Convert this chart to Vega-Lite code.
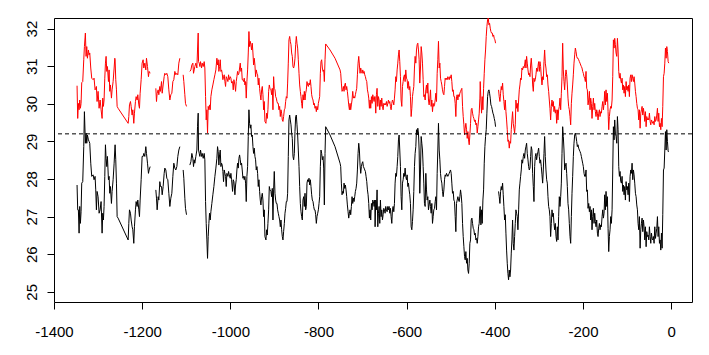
{
"$schema": "https://vega.github.io/schema/vega-lite/v6.json",
"width": 638, "height": 284,
"autosize": {"type": "none"},
"padding": {"left": 54, "top": 18, "right": 17, "bottom": 53},
"background": "white",
"config": {
 "view": {"stroke": "black", "strokeWidth": 1},
 "axis": {"domain": false, "grid": false, "tickColor": "black", "tickSize": 7, "labelColor": "black", "labelFont": "Liberation Sans", "labelFontSize": 15, "labelOverlap": false, "labelFlush": false, "title": null}
},
"data": {"values": [
{"x":-1347.7,"r":30.48,"b":27.84,"s":1},{"x":-1346.2,"r":29.61,"b":27.18,"s":1},{"x":-1344.7,"r":30.01,"b":27.18,"s":1},{"x":-1343.1,"r":29.84,"b":26.56,"s":1},{"x":-1341.6,"r":30.10,"b":27.27,"s":1},{"x":-1340.1,"r":29.88,"b":26.82,"s":1},{"x":-1338.6,"r":30.01,"b":27.13,"s":1},{"x":-1337.1,"r":30.56,"b":27.89,"s":1},{"x":-1334.8,"r":30.59,"b":27.93,"s":1},{"x":-1332.5,"r":31.17,"b":28.86,"s":1},{"x":-1331.0,"r":31.52,"b":29.79,"s":1},{"x":-1328.8,"r":31.88,"b":28.95,"s":1},{"x":-1327.2,"r":31.26,"b":29.22,"s":1},{"x":-1325.7,"r":31.52,"b":28.95,"s":1},{"x":-1324.2,"r":31.21,"b":29.17,"s":1},{"x":-1321.9,"r":31.43,"b":29.04,"s":1},{"x":-1320.4,"r":31.30,"b":29.00,"s":1},{"x":-1318.9,"r":31.35,"b":28.95,"s":1},{"x":-1316.6,"r":30.95,"b":28.42,"s":1},{"x":-1314.4,"r":30.68,"b":28.07,"s":1},{"x":-1311.3,"r":30.64,"b":28.11,"s":1},{"x":-1309.1,"r":30.68,"b":27.98,"s":1},{"x":-1306.8,"r":30.37,"b":28.07,"s":1},{"x":-1305.3,"r":30.41,"b":27.71,"s":1},{"x":-1303.8,"r":30.46,"b":27.18,"s":1},{"x":-1302.3,"r":30.06,"b":27.67,"s":1},{"x":-1300.0,"r":30.33,"b":27.53,"s":1},{"x":-1297.7,"r":29.88,"b":27.09,"s":1},{"x":-1295.4,"r":30.10,"b":27.18,"s":1},{"x":-1293.2,"r":29.84,"b":27.40,"s":1},{"x":-1290.9,"r":29.61,"b":26.56,"s":1},{"x":-1289.4,"r":30.15,"b":27.09,"s":1},{"x":-1287.9,"r":29.93,"b":26.91,"s":1},{"x":-1286.4,"r":30.10,"b":27.27,"s":1},{"x":-1284.8,"r":30.68,"b":28.07,"s":1},{"x":-1283.3,"r":31.08,"b":28.91,"s":1},{"x":-1281.8,"r":31.26,"b":28.55,"s":1},{"x":-1280.3,"r":30.86,"b":28.33,"s":1},{"x":-1278.8,"r":30.99,"b":28.60,"s":1},{"x":-1276.5,"r":30.59,"b":27.98,"s":1},{"x":-1275.0,"r":30.90,"b":28.07,"s":1},{"x":-1273.5,"r":30.33,"b":27.62,"s":1},{"x":-1272.0,"r":30.50,"b":27.80,"s":1},{"x":-1269.7,"r":30.15,"b":27.35,"s":1},{"x":-1268.2,"r":30.37,"b":27.67,"s":1},{"x":-1265.9,"r":30.59,"b":27.98,"s":1},{"x":-1263.6,"r":30.95,"b":28.42,"s":1},{"x":-1262.1,"r":31.21,"b":28.77,"s":1},{"x":-1261.4,"r":31.17,"b":28.91,"s":1},{"x":-1259.9,"r":30.64,"b":28.51,"s":1},{"x":-1258.3,"r":30.37,"b":27.89,"s":1},{"x":-1256.8,"r":29.93,"b":27.00,"s":1},{"x":-1254.6,"r":29.88,"b":26.96,"s":1},{"x":-1231.8,"r":29.48,"b":26.38,"s":1},{"x":-1230.3,"r":29.66,"b":26.82,"s":1},{"x":-1228.8,"r":29.97,"b":27.18,"s":1},{"x":-1226.5,"r":30.06,"b":27.09,"s":1},{"x":-1225.0,"r":29.93,"b":26.91,"s":1},{"x":-1222.8,"r":29.70,"b":26.73,"s":1},{"x":-1221.2,"r":29.84,"b":26.65,"s":1},{"x":-1219.0,"r":29.48,"b":26.29,"s":1},{"x":-1217.5,"r":29.75,"b":26.73,"s":1},{"x":-1215.2,"r":30.06,"b":27.18,"s":1},{"x":-1213.7,"r":30.19,"b":27.40,"s":1},{"x":-1211.4,"r":30.10,"b":27.27,"s":1},{"x":-1209.9,"r":30.24,"b":27.44,"s":1},{"x":-1207.6,"r":29.97,"b":27.18,"s":1},{"x":-1206.1,"r":29.88,"b":27.00,"s":1},{"x":-1204.6,"r":30.28,"b":27.44,"s":1},{"x":-1202.3,"r":30.64,"b":27.98,"s":1},{"x":-1200.1,"r":31.08,"b":28.60,"s":1},{"x":-1197.8,"r":31.17,"b":28.60,"s":1},{"x":-1196.3,"r":30.95,"b":28.68,"s":1},{"x":-1194.0,"r":31.08,"b":28.60,"s":1},{"x":-1191.7,"r":30.90,"b":28.86,"s":1},{"x":-1190.2,"r":31.21,"b":28.68,"s":1},{"x":-1187.9,"r":30.99,"b":28.42,"s":1},{"x":-1185.7,"r":30.72,"b":28.15,"s":1},{"x":-1184.2,"r":30.86,"b":28.24,"s":1},{"x":-1181.9,"r":30.81,"b":28.33,"s":1},
{"x":-1169.0,"r":30.41,"b":27.71,"s":2},{"x":-1167.5,"r":30.06,"b":27.49,"s":2},{"x":-1166.0,"r":30.28,"b":27.18,"s":2},{"x":-1163.7,"r":30.37,"b":27.53,"s":2},{"x":-1162.2,"r":30.24,"b":27.44,"s":2},{"x":-1159.9,"r":30.46,"b":27.93,"s":2},{"x":-1158.4,"r":30.33,"b":27.80,"s":2},{"x":-1156.1,"r":30.59,"b":27.80,"s":2},{"x":-1154.6,"r":30.28,"b":27.58,"s":2},{"x":-1152.4,"r":30.50,"b":27.80,"s":2},{"x":-1150.1,"r":30.72,"b":28.15,"s":2},{"x":-1148.6,"r":30.81,"b":28.29,"s":2},{"x":-1146.3,"r":30.77,"b":28.24,"s":2},{"x":-1144.1,"r":30.81,"b":28.02,"s":2},{"x":-1141.8,"r":30.72,"b":27.98,"s":2},{"x":-1139.5,"r":30.37,"b":27.62,"s":2},{"x":-1137.2,"r":30.10,"b":27.27,"s":2},{"x":-1135.0,"r":30.24,"b":27.49,"s":2},{"x":-1132.7,"r":30.28,"b":27.62,"s":2},{"x":-1130.4,"r":30.59,"b":28.07,"s":2},{"x":-1128.2,"r":30.64,"b":28.42,"s":2},{"x":-1125.9,"r":30.86,"b":28.29,"s":2},{"x":-1123.6,"r":30.77,"b":28.24,"s":2},{"x":-1121.3,"r":30.81,"b":28.33,"s":2},{"x":-1119.1,"r":30.77,"b":28.60,"s":2},{"x":-1116.8,"r":31.08,"b":28.77,"s":2},{"x":-1114.5,"r":31.21,"b":28.86,"s":2},
{"x":-1107.0,"r":30.77,"b":28.24,"s":3},{"x":-1105.5,"r":30.59,"b":28.02,"s":3},{"x":-1103.2,"r":30.24,"b":27.49,"s":3},{"x":-1101.7,"r":30.01,"b":27.22,"s":3},{"x":-1099.4,"r":29.93,"b":27.05,"s":3},
{"x":-1091.8,"r":30.86,"b":28.37,"s":4},{"x":-1089.5,"r":30.90,"b":28.46,"s":4},{"x":-1087.3,"r":31.03,"b":28.68,"s":4},{"x":-1085.0,"r":31.08,"b":28.55,"s":4},{"x":-1083.5,"r":30.81,"b":28.33,"s":4},{"x":-1082.0,"r":30.90,"b":28.51,"s":4},{"x":-1080.5,"r":30.99,"b":28.42,"s":4},{"x":-1078.2,"r":31.08,"b":28.60,"s":4},{"x":-1075.9,"r":30.95,"b":28.77,"s":4},{"x":-1074.4,"r":31.43,"b":29.39,"s":4},{"x":-1072.9,"r":31.88,"b":29.75,"s":4},{"x":-1072.1,"r":31.12,"b":28.77,"s":4},{"x":-1070.6,"r":31.08,"b":28.68,"s":4},{"x":-1069.1,"r":30.99,"b":28.60,"s":4},{"x":-1067.6,"r":31.12,"b":28.77,"s":4},{"x":-1065.3,"r":30.95,"b":28.60,"s":4},{"x":-1063.8,"r":31.08,"b":28.68,"s":4},{"x":-1061.5,"r":30.99,"b":28.55,"s":4},{"x":-1059.3,"r":31.12,"b":28.68,"s":4},{"x":-1057.8,"r":30.95,"b":28.51,"s":4},{"x":-1056.2,"r":30.19,"b":27.40,"s":4},{"x":-1054.7,"r":29.57,"b":26.82,"s":4},{"x":-1053.2,"r":29.84,"b":26.38,"s":4},{"x":-1051.7,"r":29.22,"b":25.89,"s":4},{"x":-1050.2,"r":29.93,"b":26.47,"s":4},{"x":-1048.7,"r":29.84,"b":26.82,"s":4},{"x":-1047.2,"r":29.97,"b":27.09,"s":4},{"x":-1045.6,"r":29.84,"b":26.91,"s":4},{"x":-1044.1,"r":30.19,"b":27.13,"s":4},{"x":-1041.9,"r":30.37,"b":27.35,"s":4},{"x":-1039.6,"r":30.50,"b":27.58,"s":4},{"x":-1037.3,"r":30.64,"b":27.80,"s":4},{"x":-1035.0,"r":30.77,"b":28.07,"s":4},{"x":-1032.8,"r":30.90,"b":28.29,"s":4},{"x":-1030.5,"r":31.21,"b":28.55,"s":4},{"x":-1029.0,"r":31.03,"b":28.86,"s":4},{"x":-1027.5,"r":31.17,"b":28.73,"s":4},{"x":-1026.0,"r":30.86,"b":28.37,"s":4},{"x":-1024.4,"r":30.99,"b":28.64,"s":4},{"x":-1022.9,"r":31.17,"b":28.77,"s":4},{"x":-1021.4,"r":30.86,"b":28.33,"s":4},{"x":-1019.9,"r":30.90,"b":28.42,"s":4},{"x":-1018.4,"r":30.81,"b":28.37,"s":4},{"x":-1016.9,"r":30.64,"b":28.20,"s":4},{"x":-1015.4,"r":30.72,"b":27.93,"s":4},{"x":-1013.8,"r":30.77,"b":28.24,"s":4},{"x":-1012.3,"r":30.59,"b":28.15,"s":4},{"x":-1010.8,"r":30.46,"b":28.07,"s":4},{"x":-1009.3,"r":30.72,"b":27.80,"s":4},{"x":-1007.8,"r":30.68,"b":28.15,"s":4},{"x":-1005.5,"r":30.59,"b":28.07,"s":4},{"x":-1004.0,"r":30.77,"b":28.20,"s":4},{"x":-1002.5,"r":30.64,"b":28.11,"s":4},{"x":-1000.2,"r":30.72,"b":28.02,"s":4},{"x":-998.7,"r":30.68,"b":28.15,"s":4},{"x":-997.2,"r":30.55,"b":27.98,"s":4},{"x":-994.9,"r":30.59,"b":27.67,"s":4},{"x":-993.4,"r":30.37,"b":27.98,"s":4},{"x":-991.9,"r":30.64,"b":27.93,"s":4},{"x":-989.6,"r":30.50,"b":27.58,"s":4},{"x":-988.1,"r":30.33,"b":27.84,"s":4},{"x":-986.6,"r":30.59,"b":27.98,"s":4},{"x":-985.1,"r":30.72,"b":28.24,"s":4},{"x":-983.6,"r":30.86,"b":28.42,"s":4},{"x":-982.0,"r":30.77,"b":28.29,"s":4},{"x":-980.5,"r":30.81,"b":28.55,"s":4},{"x":-979.0,"r":30.95,"b":28.64,"s":4},{"x":-977.5,"r":31.08,"b":28.51,"s":4},{"x":-976.0,"r":30.86,"b":28.37,"s":4},{"x":-974.5,"r":30.95,"b":28.42,"s":4},{"x":-973.0,"r":30.64,"b":28.24,"s":4},{"x":-971.4,"r":30.64,"b":28.02,"s":4},{"x":-969.9,"r":30.59,"b":28.07,"s":4},{"x":-968.4,"r":30.68,"b":27.98,"s":4},{"x":-966.9,"r":30.50,"b":28.07,"s":4},{"x":-965.4,"r":30.59,"b":27.89,"s":4},{"x":-963.9,"r":30.15,"b":27.40,"s":4},{"x":-962.4,"r":30.59,"b":28.07,"s":4},{"x":-960.8,"r":30.90,"b":28.33,"s":4},{"x":-959.3,"r":31.35,"b":29.13,"s":4},{"x":-957.8,"r":31.92,"b":29.84,"s":4},{"x":-956.3,"r":31.52,"b":29.48,"s":4},{"x":-954.8,"r":31.66,"b":29.35,"s":4},{"x":-953.3,"r":31.57,"b":29.44,"s":4},{"x":-951.8,"r":31.43,"b":29.13,"s":4},{"x":-950.2,"r":31.61,"b":29.17,"s":4},{"x":-948.7,"r":31.35,"b":28.86,"s":4},{"x":-947.2,"r":31.03,"b":28.68,"s":4},{"x":-945.7,"r":31.21,"b":28.82,"s":4},{"x":-944.2,"r":31.03,"b":28.60,"s":4},{"x":-942.7,"r":30.72,"b":28.51,"s":4},{"x":-941.2,"r":30.90,"b":28.24,"s":4},{"x":-939.6,"r":30.81,"b":28.33,"s":4},{"x":-938.1,"r":30.77,"b":28.15,"s":4},{"x":-936.6,"r":30.50,"b":27.80,"s":4},{"x":-935.1,"r":30.68,"b":27.98,"s":4},{"x":-933.6,"r":30.41,"b":27.67,"s":4},{"x":-932.1,"r":30.24,"b":27.44,"s":4},{"x":-930.6,"r":30.10,"b":27.31,"s":4},{"x":-929.0,"r":30.37,"b":27.53,"s":4},{"x":-927.5,"r":30.46,"b":27.62,"s":4},{"x":-926.0,"r":30.24,"b":27.44,"s":4},{"x":-924.5,"r":29.84,"b":27.00,"s":4},{"x":-923.0,"r":30.06,"b":27.18,"s":4},{"x":-921.5,"r":29.53,"b":26.47,"s":4},{"x":-919.2,"r":29.48,"b":26.38,"s":4},{"x":-917.7,"r":29.75,"b":26.65,"s":4},{"x":-916.2,"r":29.61,"b":26.51,"s":4},{"x":-914.7,"r":29.84,"b":26.82,"s":4},{"x":-913.1,"r":30.33,"b":27.18,"s":4},{"x":-911.6,"r":30.50,"b":27.80,"s":4},
{"x":-910.1,"r":30.41,"b":27.71,"s":4},{"x":-907.8,"r":30.37,"b":27.67,"s":4},{"x":-906.3,"r":30.24,"b":27.53,"s":4},{"x":-904.8,"r":30.41,"b":27.75,"s":4},{"x":-903.3,"r":29.84,"b":26.91,"s":4},{"x":-901.8,"r":30.72,"b":27.71,"s":4},{"x":-900.3,"r":30.41,"b":28.20,"s":4},{"x":-898.7,"r":30.37,"b":27.62,"s":4},{"x":-897.2,"r":30.19,"b":27.44,"s":4},{"x":-895.7,"r":30.15,"b":27.35,"s":4},{"x":-894.2,"r":30.06,"b":27.35,"s":4},{"x":-892.7,"r":30.01,"b":27.18,"s":4},{"x":-891.2,"r":30.01,"b":27.09,"s":4},{"x":-889.7,"r":29.84,"b":27.00,"s":4},{"x":-888.1,"r":29.93,"b":26.91,"s":4},{"x":-886.6,"r":29.66,"b":26.73,"s":4},{"x":-885.1,"r":29.84,"b":26.91,"s":4},{"x":-883.6,"r":29.75,"b":26.65,"s":4},{"x":-882.1,"r":29.57,"b":26.47,"s":4},{"x":-880.6,"r":29.53,"b":26.38,"s":4},{"x":-879.1,"r":29.66,"b":26.60,"s":4},{"x":-877.5,"r":29.84,"b":26.82,"s":4},{"x":-876.0,"r":29.88,"b":27.09,"s":4},{"x":-874.5,"r":30.06,"b":27.22,"s":4},{"x":-873.0,"r":30.19,"b":27.40,"s":4},{"x":-871.5,"r":30.15,"b":27.40,"s":4},{"x":-870.0,"r":30.55,"b":27.62,"s":4},{"x":-868.5,"r":31.08,"b":28.60,"s":4},{"x":-867.0,"r":31.70,"b":29.57,"s":4},{"x":-865.4,"r":31.79,"b":29.70,"s":4},{"x":-863.9,"r":31.66,"b":29.57,"s":4},{"x":-862.4,"r":31.57,"b":29.44,"s":4},{"x":-860.9,"r":31.35,"b":29.22,"s":4},{"x":-859.4,"r":31.26,"b":29.08,"s":4},{"x":-857.9,"r":30.99,"b":28.60,"s":4},{"x":-856.4,"r":30.95,"b":28.51,"s":4},{"x":-854.8,"r":31.03,"b":28.68,"s":4},{"x":-853.3,"r":31.21,"b":29.26,"s":4},{"x":-851.8,"r":31.57,"b":29.66,"s":4},{"x":-850.3,"r":31.79,"b":29.70,"s":4},{"x":-848.8,"r":31.61,"b":29.44,"s":4},{"x":-847.3,"r":31.48,"b":29.17,"s":4},{"x":-845.8,"r":31.17,"b":28.77,"s":4},{"x":-844.2,"r":30.81,"b":28.33,"s":4},{"x":-842.7,"r":30.50,"b":27.80,"s":4},{"x":-841.2,"r":30.33,"b":27.35,"s":4},{"x":-839.7,"r":30.19,"b":27.13,"s":4},{"x":-838.2,"r":30.01,"b":27.00,"s":4},{"x":-836.7,"r":29.88,"b":26.91,"s":4},{"x":-835.2,"r":30.24,"b":27.44,"s":4},{"x":-833.6,"r":30.10,"b":27.53,"s":4},{"x":-832.1,"r":30.33,"b":27.27,"s":4},{"x":-830.6,"r":30.10,"b":27.62,"s":4},{"x":-829.1,"r":30.28,"b":27.18,"s":4},{"x":-827.6,"r":30.37,"b":27.27,"s":4},{"x":-826.1,"r":30.59,"b":27.89,"s":4},{"x":-824.6,"r":30.50,"b":27.98,"s":4},{"x":-823.0,"r":30.46,"b":27.93,"s":4},{"x":-821.5,"r":30.55,"b":28.02,"s":4},{"x":-820.0,"r":30.50,"b":27.84,"s":4},{"x":-818.5,"r":30.64,"b":27.98,"s":4},{"x":-817.0,"r":30.46,"b":27.80,"s":4},{"x":-815.5,"r":30.24,"b":27.58,"s":4},{"x":-814.0,"r":30.15,"b":27.44,"s":4},{"x":-812.4,"r":30.10,"b":27.40,"s":4},{"x":-810.9,"r":29.97,"b":27.27,"s":4},{"x":-809.4,"r":30.01,"b":27.18,"s":4},{"x":-807.9,"r":29.88,"b":27.18,"s":4},{"x":-806.4,"r":29.93,"b":27.05,"s":4},{"x":-804.9,"r":29.79,"b":26.82,"s":4},{"x":-803.4,"r":29.93,"b":27.00,"s":4},{"x":-801.8,"r":29.84,"b":27.09,"s":4},{"x":-800.3,"r":30.01,"b":27.18,"s":4},{"x":-798.8,"r":30.10,"b":27.35,"s":4},{"x":-797.3,"r":30.19,"b":27.53,"s":4},{"x":-795.8,"r":30.81,"b":28.33,"s":4},{"x":-794.3,"r":31.12,"b":28.77,"s":4},{"x":-792.8,"r":31.17,"b":28.68,"s":4},{"x":-791.2,"r":30.95,"b":28.51,"s":4},{"x":-789.7,"r":30.86,"b":28.60,"s":4},{"x":-788.2,"r":30.90,"b":28.29,"s":4},{"x":-786.7,"r":30.59,"b":27.31,"s":4},{"x":-785.2,"r":31.17,"b":28.68,"s":4},{"x":-783.7,"r":31.59,"b":29.39,"s":4},{"x":-773.8,"r":31.43,"b":29.17,"s":4},{"x":-762.5,"r":31.21,"b":28.86,"s":4},{"x":-751.1,"r":30.90,"b":28.42,"s":4},{"x":-749.6,"r":30.81,"b":28.33,"s":4},{"x":-748.1,"r":30.55,"b":27.89,"s":4},{"x":-746.6,"r":30.33,"b":27.58,"s":4},{"x":-745.1,"r":30.37,"b":27.67,"s":4},{"x":-743.5,"r":30.46,"b":27.62,"s":4},{"x":-742.0,"r":30.33,"b":27.89,"s":4},{"x":-740.5,"r":30.50,"b":27.75,"s":4},{"x":-739.0,"r":30.55,"b":27.84,"s":4},{"x":-737.5,"r":30.37,"b":27.71,"s":4},{"x":-736.0,"r":30.46,"b":27.53,"s":4},{"x":-734.5,"r":30.33,"b":27.31,"s":4},{"x":-732.9,"r":30.15,"b":27.13,"s":4},{"x":-731.4,"r":29.97,"b":26.96,"s":4},{"x":-729.9,"r":29.84,"b":27.09,"s":4},{"x":-728.4,"r":30.01,"b":27.18,"s":4},{"x":-726.9,"r":29.84,"b":27.05,"s":4},{"x":-725.4,"r":29.97,"b":27.27,"s":4},{"x":-723.9,"r":30.10,"b":27.53,"s":4},{"x":-722.3,"r":30.33,"b":27.35,"s":4},{"x":-720.8,"r":30.15,"b":27.49,"s":4},{"x":-719.3,"r":30.19,"b":27.40,"s":4},{"x":-717.8,"r":30.15,"b":27.53,"s":4},{"x":-716.3,"r":30.24,"b":27.67,"s":4},{"x":-714.8,"r":30.33,"b":27.75,"s":4},{"x":-713.3,"r":30.41,"b":27.89,"s":4},{"x":-711.7,"r":30.77,"b":28.24,"s":4},{"x":-710.2,"r":31.08,"b":28.68,"s":4},{"x":-708.7,"r":31.26,"b":28.95,"s":4},{"x":-707.2,"r":31.03,"b":28.77,"s":4},{"x":-705.7,"r":30.81,"b":28.37,"s":4},{"x":-704.2,"r":30.95,"b":28.15,"s":4},{"x":-702.7,"r":30.86,"b":28.33,"s":4},{"x":-701.1,"r":30.81,"b":28.42,"s":4},{"x":-699.6,"r":30.90,"b":28.46,"s":4},{"x":-698.1,"r":30.81,"b":28.33,"s":4},{"x":-696.6,"r":30.86,"b":28.29,"s":4},{"x":-695.1,"r":30.77,"b":28.24,"s":4},{"x":-693.6,"r":30.72,"b":28.20,"s":4},{"x":-692.1,"r":30.64,"b":28.07,"s":4},{"x":-690.5,"r":30.59,"b":27.93,"s":4},{"x":-689.0,"r":30.37,"b":27.71,"s":4},{"x":-687.5,"r":30.28,"b":27.58,"s":4},{"x":-686.0,"r":30.15,"b":27.35,"s":4},{"x":-684.5,"r":29.88,"b":26.96,"s":4},{"x":-683.0,"r":30.10,"b":27.18,"s":4},{"x":-681.5,"r":29.88,"b":26.91,"s":4},{"x":-679.9,"r":30.19,"b":27.35,"s":4},{"x":-678.4,"r":30.01,"b":27.18,"s":4},{"x":-676.9,"r":30.24,"b":27.44,"s":4},{"x":-675.4,"r":30.15,"b":27.40,"s":4},{"x":-673.9,"r":30.06,"b":27.27,"s":4},{"x":-672.4,"r":30.19,"b":27.44,"s":4},
{"x":-671.6,"r":30.19,"b":26.73,"s":4},{"x":-670.1,"r":29.75,"b":27.44,"s":4},{"x":-668.6,"r":30.24,"b":27.18,"s":4},{"x":-667.1,"r":30.41,"b":27.71,"s":4},{"x":-665.5,"r":29.93,"b":26.73,"s":4},{"x":-664.0,"r":30.19,"b":27.09,"s":4},{"x":-662.5,"r":30.10,"b":27.27,"s":4},{"x":-661.0,"r":29.84,"b":26.82,"s":4},{"x":-659.5,"r":30.10,"b":27.44,"s":4},{"x":-658.0,"r":29.93,"b":27.00,"s":4},{"x":-656.5,"r":30.15,"b":27.18,"s":4},{"x":-654.9,"r":29.93,"b":26.91,"s":4},{"x":-653.4,"r":29.84,"b":27.05,"s":4},{"x":-651.9,"r":30.01,"b":27.22,"s":4},{"x":-650.4,"r":29.97,"b":27.18,"s":4},{"x":-648.9,"r":30.01,"b":27.09,"s":4},{"x":-647.4,"r":29.97,"b":27.27,"s":4},{"x":-645.9,"r":30.06,"b":27.18,"s":4},{"x":-644.3,"r":29.93,"b":27.13,"s":4},{"x":-642.8,"r":30.01,"b":27.27,"s":4},{"x":-641.3,"r":30.10,"b":27.18,"s":4},{"x":-639.8,"r":30.01,"b":27.27,"s":4},{"x":-638.3,"r":30.06,"b":27.09,"s":4},{"x":-636.8,"r":29.93,"b":27.22,"s":4},{"x":-635.3,"r":29.84,"b":27.00,"s":4},{"x":-633.7,"r":30.01,"b":26.82,"s":4},{"x":-632.2,"r":30.10,"b":27.18,"s":4},{"x":-630.7,"r":30.06,"b":27.27,"s":4},{"x":-629.2,"r":29.97,"b":27.13,"s":4},{"x":-627.7,"r":30.15,"b":27.35,"s":4},{"x":-626.2,"r":30.37,"b":27.89,"s":4},{"x":-624.7,"r":30.72,"b":28.15,"s":4},{"x":-623.2,"r":30.59,"b":28.07,"s":4},{"x":-621.6,"r":30.90,"b":28.33,"s":4},{"x":-620.1,"r":31.08,"b":28.60,"s":4},{"x":-618.6,"r":31.30,"b":29.04,"s":4},{"x":-617.1,"r":31.43,"b":29.17,"s":4},{"x":-615.6,"r":31.12,"b":28.77,"s":4},{"x":-614.1,"r":30.72,"b":28.33,"s":4},{"x":-612.6,"r":30.10,"b":27.53,"s":4},{"x":-611.0,"r":29.93,"b":27.18,"s":4},{"x":-609.5,"r":30.46,"b":27.89,"s":4},{"x":-608.0,"r":30.59,"b":27.98,"s":4},{"x":-606.5,"r":30.72,"b":28.15,"s":4},{"x":-605.0,"r":30.77,"b":28.07,"s":4},{"x":-603.5,"r":30.59,"b":28.29,"s":4},{"x":-602.0,"r":30.90,"b":28.07,"s":4},{"x":-600.4,"r":30.68,"b":27.98,"s":4},{"x":-598.9,"r":30.64,"b":28.11,"s":4},{"x":-597.4,"r":30.41,"b":27.80,"s":4},{"x":-595.9,"r":30.59,"b":27.89,"s":4},{"x":-594.4,"r":30.37,"b":27.71,"s":4},{"x":-592.9,"r":30.46,"b":27.58,"s":4},{"x":-591.4,"r":30.19,"b":27.35,"s":4},{"x":-589.8,"r":29.66,"b":26.73,"s":4},{"x":-588.3,"r":29.88,"b":26.65,"s":4},{"x":-586.8,"r":30.19,"b":26.87,"s":4},{"x":-585.3,"r":30.33,"b":27.18,"s":4},{"x":-583.8,"r":30.46,"b":27.67,"s":4},{"x":-582.3,"r":30.95,"b":28.33,"s":4},{"x":-580.8,"r":31.26,"b":28.68,"s":4},{"x":-579.2,"r":31.08,"b":28.86,"s":4},{"x":-577.7,"r":31.43,"b":29.31,"s":4},{"x":-576.2,"r":31.57,"b":29.17,"s":4},{"x":-574.7,"r":31.61,"b":29.35,"s":4},{"x":-573.2,"r":31.43,"b":29.22,"s":4},{"x":-571.7,"r":31.17,"b":28.77,"s":4},{"x":-570.2,"r":30.55,"b":27.62,"s":4},{"x":-568.6,"r":30.95,"b":28.24,"s":4},{"x":-567.1,"r":31.52,"b":29.13,"s":4},{"x":-565.6,"r":31.35,"b":28.95,"s":4},{"x":-564.1,"r":31.08,"b":28.77,"s":4},{"x":-562.6,"r":30.64,"b":28.33,"s":4},{"x":-561.1,"r":30.19,"b":27.89,"s":4},{"x":-559.6,"r":30.24,"b":27.35,"s":4},{"x":-558.0,"r":30.10,"b":27.27,"s":4},{"x":-556.5,"r":30.37,"b":28.15,"s":4},{"x":-555.0,"r":30.50,"b":27.71,"s":4},{"x":-553.5,"r":30.28,"b":27.44,"s":4},{"x":-552.0,"r":30.55,"b":27.53,"s":4},{"x":-550.5,"r":30.10,"b":27.18,"s":4},{"x":-549.0,"r":29.97,"b":27.31,"s":4},{"x":-547.4,"r":30.15,"b":27.44,"s":4},{"x":-545.9,"r":30.37,"b":27.27,"s":4},{"x":-544.4,"r":29.93,"b":27.09,"s":4},{"x":-542.9,"r":30.10,"b":27.35,"s":4},{"x":-541.4,"r":29.79,"b":26.82,"s":4},{"x":-539.9,"r":30.01,"b":27.00,"s":4},{"x":-538.4,"r":29.93,"b":27.18,"s":4},{"x":-536.8,"r":29.97,"b":27.22,"s":4},{"x":-535.3,"r":30.10,"b":27.40,"s":4},{"x":-533.8,"r":30.28,"b":27.53,"s":4},{"x":-532.3,"r":30.06,"b":27.18,"s":4},{"x":-530.8,"r":30.81,"b":28.15,"s":4},{"x":-529.3,"r":31.17,"b":28.77,"s":4},{"x":-527.8,"r":31.66,"b":29.48,"s":4},{"x":-526.2,"r":30.95,"b":28.77,"s":4},{"x":-524.7,"r":31.08,"b":28.51,"s":4},{"x":-523.2,"r":30.68,"b":28.15,"s":4},{"x":-521.7,"r":30.59,"b":27.98,"s":4},{"x":-520.2,"r":30.50,"b":27.89,"s":4},{"x":-518.7,"r":30.37,"b":27.67,"s":4},{"x":-517.2,"r":30.28,"b":27.53,"s":4},{"x":-515.6,"r":30.24,"b":27.71,"s":4},{"x":-514.1,"r":30.46,"b":27.98,"s":4},{"x":-512.6,"r":30.68,"b":28.11,"s":4},{"x":-511.1,"r":30.64,"b":28.07,"s":4},{"x":-509.6,"r":30.68,"b":28.15,"s":4},{"x":-508.1,"r":30.64,"b":28.11,"s":4},{"x":-506.6,"r":30.72,"b":28.07,"s":4},{"x":-505.0,"r":30.68,"b":28.11,"s":4},{"x":-503.5,"r":30.64,"b":28.15,"s":4},{"x":-502.0,"r":30.72,"b":28.20,"s":4},{"x":-500.5,"r":30.68,"b":28.24,"s":4},{"x":-499.0,"r":30.77,"b":28.15,"s":4},{"x":-497.5,"r":30.59,"b":27.89,"s":4},{"x":-496.0,"r":30.33,"b":27.62,"s":4},{"x":-494.4,"r":30.37,"b":27.67,"s":4},{"x":-492.9,"r":30.19,"b":27.44,"s":4},{"x":-491.4,"r":30.19,"b":27.40,"s":4},{"x":-489.9,"r":30.01,"b":27.00,"s":4},{"x":-488.4,"r":29.66,"b":26.60,"s":4},{"x":-486.9,"r":30.19,"b":27.35,"s":4},{"x":-485.4,"r":30.24,"b":27.44,"s":4},{"x":-483.8,"r":30.10,"b":27.53,"s":4},{"x":-482.3,"r":30.24,"b":27.44,"s":4},{"x":-480.8,"r":30.19,"b":27.40,"s":4},{"x":-479.3,"r":30.28,"b":27.53,"s":4},{"x":-477.8,"r":30.33,"b":27.71,"s":4},{"x":-476.3,"r":30.37,"b":27.58,"s":4},{"x":-474.8,"r":30.41,"b":27.35,"s":4},{"x":-473.2,"r":29.93,"b":26.82,"s":4},{"x":-471.7,"r":29.66,"b":26.47,"s":4},{"x":-470.2,"r":29.44,"b":26.20,"s":4},{"x":-468.7,"r":29.17,"b":25.94,"s":4},{"x":-467.2,"r":29.35,"b":25.85,"s":4},{"x":-465.7,"r":29.48,"b":26.07,"s":4},{"x":-464.1,"r":29.31,"b":25.76,"s":4},{"x":-462.6,"r":29.08,"b":25.89,"s":4},{"x":-461.1,"r":29.26,"b":25.58,"s":4},{"x":-459.6,"r":29.04,"b":25.49,"s":4},{"x":-458.1,"r":28.91,"b":25.76,"s":4},{"x":-456.6,"r":29.17,"b":26.29,"s":4},{"x":-455.1,"r":29.48,"b":26.38,"s":4},{"x":-453.6,"r":29.84,"b":26.91,"s":4},{"x":-452.0,"r":29.88,"b":26.96,"s":4},{"x":-450.5,"r":29.75,"b":26.82,"s":4},{"x":-449.0,"r":29.66,"b":26.69,"s":4},{"x":-447.5,"r":29.61,"b":26.65,"s":4},{"x":-446.0,"r":29.53,"b":26.51,"s":4},{"x":-444.5,"r":29.57,"b":26.56,"s":4},{"x":-443.0,"r":29.44,"b":26.38,"s":4},{"x":-441.4,"r":29.48,"b":26.42,"s":4},{"x":-439.9,"r":29.22,"b":26.29,"s":4},{"x":-438.4,"r":29.39,"b":26.47,"s":4},{"x":-436.9,"r":29.57,"b":26.73,"s":4},{"x":-435.4,"r":29.75,"b":26.82,"s":4},{"x":-433.9,"r":30.15,"b":27.22,"s":4},
{"x":-433.1,"r":30.59,"b":27.27,"s":4},{"x":-431.6,"r":30.10,"b":26.78,"s":4},{"x":-430.1,"r":29.75,"b":27.18,"s":4},{"x":-428.6,"r":30.19,"b":26.82,"s":4},{"x":-427.0,"r":29.84,"b":27.44,"s":4},{"x":-425.5,"r":30.41,"b":27.71,"s":4},{"x":-424.0,"r":30.81,"b":28.42,"s":4},{"x":-422.5,"r":31.17,"b":28.86,"s":4},{"x":-421.0,"r":31.43,"b":29.13,"s":4},{"x":-419.5,"r":31.79,"b":29.31,"s":4},{"x":-418.0,"r":32.05,"b":29.75,"s":4},{"x":-416.4,"r":32.23,"b":30.19,"s":4},{"x":-414.9,"r":32.28,"b":30.33,"s":4},{"x":-413.4,"r":32.10,"b":30.37,"s":4},{"x":-411.9,"r":32.14,"b":30.28,"s":4},{"x":-410.4,"r":32.01,"b":30.15,"s":4},{"x":-408.9,"r":31.92,"b":29.97,"s":4},{"x":-407.4,"r":31.88,"b":29.93,"s":4},{"x":-405.8,"r":31.88,"b":29.84,"s":4},{"x":-404.3,"r":31.79,"b":29.75,"s":4},{"x":-402.8,"r":31.83,"b":29.70,"s":4},{"x":-401.3,"r":31.74,"b":29.61,"s":4},{"x":-399.8,"r":31.70,"b":29.53,"s":4},{"x":-398.3,"r":31.61,"b":29.39,"s":4},
{"x":-391.5,"r":30.37,"b":27.67,"s":5},{"x":-390.0,"r":30.19,"b":27.53,"s":5},{"x":-388.4,"r":30.06,"b":27.35,"s":5},{"x":-386.9,"r":30.28,"b":27.67,"s":5},{"x":-385.4,"r":30.46,"b":27.80,"s":5},{"x":-383.9,"r":30.37,"b":27.71,"s":5},{"x":-382.4,"r":30.55,"b":27.89,"s":5},{"x":-380.9,"r":30.24,"b":27.58,"s":5},{"x":-379.4,"r":30.06,"b":27.27,"s":5},{"x":-377.8,"r":29.84,"b":26.91,"s":5},{"x":-376.3,"r":30.10,"b":27.05,"s":5},{"x":-374.8,"r":29.79,"b":26.56,"s":5},{"x":-373.3,"r":29.57,"b":26.11,"s":5},{"x":-371.8,"r":29.31,"b":25.76,"s":5},{"x":-370.3,"r":29.00,"b":25.49,"s":5},{"x":-368.8,"r":29.04,"b":25.32,"s":5},{"x":-367.2,"r":28.82,"b":25.58,"s":5},{"x":-365.7,"r":29.00,"b":25.40,"s":5},{"x":-364.2,"r":28.95,"b":25.58,"s":5},{"x":-362.7,"r":29.31,"b":26.03,"s":5},{"x":-361.2,"r":29.57,"b":26.38,"s":5},{"x":-359.7,"r":29.79,"b":26.91,"s":5},{"x":-358.2,"r":29.48,"b":26.29,"s":5},{"x":-356.6,"r":29.35,"b":26.11,"s":5},{"x":-355.1,"r":29.22,"b":26.47,"s":5},{"x":-353.6,"r":29.44,"b":26.82,"s":5},{"x":-352.1,"r":30.10,"b":27.18,"s":5},{"x":-350.6,"r":29.88,"b":27.09,"s":5},{"x":-349.1,"r":30.01,"b":27.00,"s":5},{"x":-347.6,"r":29.79,"b":26.65,"s":5},{"x":-346.0,"r":30.10,"b":27.18,"s":5},{"x":-344.5,"r":30.37,"b":27.71,"s":5},{"x":-343.0,"r":30.50,"b":27.89,"s":5},{"x":-341.5,"r":30.68,"b":28.07,"s":5},{"x":-340.0,"r":30.64,"b":28.24,"s":5},{"x":-338.5,"r":30.95,"b":28.51,"s":5},{"x":-337.0,"r":30.90,"b":28.42,"s":5},{"x":-335.4,"r":30.99,"b":28.60,"s":5},{"x":-333.9,"r":30.95,"b":28.68,"s":5},{"x":-332.4,"r":31.03,"b":28.55,"s":5},{"x":-330.9,"r":31.17,"b":28.77,"s":5},{"x":-329.4,"r":30.95,"b":28.86,"s":5},{"x":-327.9,"r":31.26,"b":28.95,"s":5},{"x":-326.4,"r":31.08,"b":28.68,"s":5},{"x":-324.8,"r":30.90,"b":28.51,"s":5},{"x":-323.3,"r":30.77,"b":28.33,"s":5},{"x":-321.8,"r":30.81,"b":28.24,"s":5},{"x":-320.3,"r":30.72,"b":28.29,"s":5},{"x":-318.8,"r":31.03,"b":28.60,"s":5},{"x":-317.3,"r":31.21,"b":28.86,"s":5},{"x":-315.8,"r":30.95,"b":28.77,"s":5},{"x":-314.2,"r":30.50,"b":28.15,"s":5},{"x":-312.7,"r":30.33,"b":27.80,"s":5},{"x":-311.2,"r":30.68,"b":27.40,"s":5},{"x":-309.7,"r":30.59,"b":28.33,"s":5},{"x":-308.2,"r":30.64,"b":28.60,"s":5},{"x":-306.7,"r":30.77,"b":28.68,"s":5},{"x":-305.2,"r":30.95,"b":28.51,"s":5},{"x":-303.6,"r":30.86,"b":28.64,"s":5},{"x":-302.1,"r":30.99,"b":28.73,"s":5},{"x":-300.6,"r":31.12,"b":28.82,"s":5},{"x":-299.1,"r":30.86,"b":28.60,"s":5},{"x":-297.6,"r":31.12,"b":28.42,"s":5},{"x":-296.1,"r":30.99,"b":28.51,"s":5},{"x":-294.6,"r":30.72,"b":28.33,"s":5},{"x":-293.0,"r":30.50,"b":28.11,"s":5},{"x":-291.5,"r":30.72,"b":27.89,"s":5},{"x":-290.0,"r":30.64,"b":28.24,"s":5},{"x":-288.5,"r":31.12,"b":28.68,"s":5},{"x":-287.0,"r":31.43,"b":29.13,"s":5},{"x":-285.5,"r":31.08,"b":28.60,"s":5},{"x":-284.0,"r":30.95,"b":28.24,"s":5},{"x":-282.4,"r":30.72,"b":27.98,"s":5},{"x":-280.9,"r":30.77,"b":27.89,"s":5},{"x":-279.4,"r":30.50,"b":27.53,"s":5},{"x":-277.9,"r":30.33,"b":27.27,"s":5},{"x":-276.4,"r":30.10,"b":27.18,"s":5},{"x":-274.9,"r":29.88,"b":27.00,"s":5},{"x":-273.4,"r":29.57,"b":26.47,"s":5},{"x":-271.8,"r":29.93,"b":26.82,"s":5},{"x":-270.3,"r":30.10,"b":27.18,"s":5},{"x":-268.8,"r":29.93,"b":27.00,"s":5},{"x":-267.3,"r":30.06,"b":27.09,"s":5},{"x":-265.8,"r":29.79,"b":26.82,"s":5},{"x":-264.3,"r":29.93,"b":26.65,"s":5},{"x":-262.8,"r":29.75,"b":26.82,"s":5},{"x":-261.2,"r":29.84,"b":26.47,"s":5},{"x":-259.7,"r":29.48,"b":26.34,"s":5},{"x":-258.2,"r":29.84,"b":26.73,"s":5},{"x":-256.7,"r":29.57,"b":26.38,"s":5},{"x":-255.2,"r":29.84,"b":27.00,"s":5},{"x":-253.7,"r":29.93,"b":27.53,"s":5},{"x":-252.2,"r":30.15,"b":27.27,"s":5},{"x":-250.6,"r":29.84,"b":27.53,"s":5},{"x":-249.1,"r":30.28,"b":27.89,"s":5},{"x":-247.6,"r":30.72,"b":28.68,"s":5},{"x":-246.1,"r":31.61,"b":29.39,"s":5},{"x":-244.6,"r":30.90,"b":29.13,"s":5},{"x":-243.1,"r":30.59,"b":28.77,"s":5},{"x":-241.6,"r":30.37,"b":28.24,"s":5},{"x":-240.0,"r":30.72,"b":28.33,"s":5},{"x":-238.5,"r":30.90,"b":28.42,"s":5},{"x":-237.0,"r":30.77,"b":28.15,"s":5},{"x":-235.5,"r":30.50,"b":27.80,"s":5},{"x":-234.0,"r":30.15,"b":27.35,"s":5},{"x":-232.5,"r":29.93,"b":27.18,"s":5},{"x":-231.0,"r":29.84,"b":26.82,"s":5},{"x":-229.4,"r":29.66,"b":26.47,"s":5},{"x":-227.9,"r":29.44,"b":26.29,"s":5},{"x":-226.4,"r":30.01,"b":27.00,"s":5},{"x":-224.9,"r":30.28,"b":27.62,"s":5},{"x":-223.4,"r":30.50,"b":28.07,"s":5},{"x":-221.9,"r":30.77,"b":28.60,"s":5},{"x":-220.4,"r":31.08,"b":28.95,"s":5},{"x":-218.8,"r":31.30,"b":29.17,"s":5},{"x":-217.3,"r":31.48,"b":29.22,"s":5},{"x":-215.8,"r":31.39,"b":29.13,"s":5},{"x":-214.3,"r":31.26,"b":29.00,"s":5},{"x":-212.8,"r":31.21,"b":28.86,"s":5},{"x":-211.3,"r":31.21,"b":28.91,"s":5},{"x":-209.8,"r":31.17,"b":28.82,"s":5},{"x":-208.2,"r":31.12,"b":28.77,"s":5},{"x":-206.7,"r":31.08,"b":28.73,"s":5},{"x":-205.2,"r":31.03,"b":28.68,"s":5},{"x":-203.7,"r":30.99,"b":28.60,"s":5},{"x":-202.2,"r":30.95,"b":28.51,"s":5},{"x":-200.7,"r":30.86,"b":28.42,"s":5},{"x":-199.2,"r":30.81,"b":28.33,"s":5},{"x":-197.6,"r":30.72,"b":28.15,"s":5},{"x":-196.1,"r":30.68,"b":28.07,"s":5},
{"x":-194.6,"r":30.59,"b":28.07,"s":5},{"x":-193.1,"r":30.86,"b":28.24,"s":5},{"x":-191.6,"r":30.41,"b":27.67,"s":5},{"x":-190.1,"r":30.37,"b":27.71,"s":5},{"x":-188.5,"r":29.97,"b":27.22,"s":5},{"x":-187.0,"r":30.10,"b":27.35,"s":5},{"x":-185.5,"r":30.33,"b":27.13,"s":5},{"x":-184.0,"r":29.84,"b":27.27,"s":5},{"x":-182.5,"r":30.15,"b":26.91,"s":5},{"x":-181.0,"r":30.01,"b":27.18,"s":5},{"x":-179.5,"r":29.61,"b":26.65,"s":5},{"x":-177.9,"r":29.93,"b":27.00,"s":5},{"x":-176.4,"r":30.15,"b":27.22,"s":5},{"x":-174.9,"r":29.84,"b":26.82,"s":5},{"x":-173.4,"r":30.01,"b":27.09,"s":5},{"x":-171.9,"r":29.79,"b":26.87,"s":5},{"x":-170.4,"r":29.66,"b":26.73,"s":5},{"x":-168.9,"r":29.84,"b":26.91,"s":5},{"x":-167.3,"r":29.75,"b":26.56,"s":5},{"x":-165.8,"r":29.57,"b":26.47,"s":5},{"x":-164.3,"r":29.75,"b":26.69,"s":5},{"x":-162.8,"r":29.84,"b":26.82,"s":5},{"x":-161.3,"r":29.66,"b":26.65,"s":5},{"x":-159.8,"r":29.79,"b":26.78,"s":5},{"x":-158.3,"r":29.75,"b":26.73,"s":5},{"x":-156.7,"r":29.93,"b":27.00,"s":5},{"x":-155.2,"r":30.06,"b":27.18,"s":5},{"x":-153.7,"r":29.84,"b":26.96,"s":5},{"x":-152.2,"r":30.01,"b":27.09,"s":5},{"x":-150.7,"r":30.33,"b":27.58,"s":5},{"x":-149.2,"r":29.97,"b":27.18,"s":5},{"x":-147.7,"r":30.37,"b":27.67,"s":5},{"x":-146.2,"r":30.06,"b":27.27,"s":5},{"x":-144.6,"r":30.28,"b":27.53,"s":5},{"x":-143.1,"r":29.79,"b":26.69,"s":5},{"x":-141.6,"r":29.31,"b":26.07,"s":5},{"x":-140.1,"r":29.66,"b":26.47,"s":5},{"x":-138.6,"r":29.84,"b":26.65,"s":5},{"x":-137.1,"r":29.93,"b":27.00,"s":5},{"x":-135.6,"r":29.88,"b":26.82,"s":5},{"x":-134.0,"r":30.10,"b":27.18,"s":5},{"x":-132.5,"r":30.72,"b":28.24,"s":5},{"x":-131.0,"r":31.70,"b":29.39,"s":5},{"x":-129.5,"r":31.48,"b":29.04,"s":5},{"x":-128.0,"r":31.74,"b":29.57,"s":5},{"x":-126.5,"r":31.57,"b":29.22,"s":5},{"x":-125.0,"r":31.35,"b":29.13,"s":5},{"x":-123.4,"r":31.26,"b":28.95,"s":5},{"x":-121.9,"r":31.74,"b":29.66,"s":5},{"x":-120.4,"r":31.43,"b":29.31,"s":5},{"x":-118.9,"r":30.86,"b":28.33,"s":5},{"x":-117.4,"r":30.68,"b":28.07,"s":5},{"x":-115.9,"r":30.81,"b":28.20,"s":5},{"x":-114.4,"r":30.64,"b":27.93,"s":5},{"x":-112.8,"r":30.55,"b":27.89,"s":5},{"x":-111.3,"r":30.68,"b":28.07,"s":5},{"x":-109.8,"r":30.37,"b":27.67,"s":5},{"x":-108.3,"r":30.50,"b":27.84,"s":5},{"x":-106.8,"r":30.28,"b":27.58,"s":5},{"x":-105.3,"r":30.46,"b":27.80,"s":5},{"x":-103.8,"r":30.19,"b":27.44,"s":5},{"x":-102.2,"r":30.59,"b":27.93,"s":5},{"x":-100.7,"r":30.37,"b":27.71,"s":5},{"x":-99.2,"r":30.46,"b":27.80,"s":5},{"x":-97.7,"r":30.33,"b":27.58,"s":5},{"x":-96.2,"r":30.50,"b":27.89,"s":5},{"x":-94.7,"r":30.19,"b":27.40,"s":5},{"x":-93.2,"r":30.68,"b":28.07,"s":5},{"x":-91.6,"r":30.77,"b":28.24,"s":5},{"x":-90.1,"r":30.59,"b":28.15,"s":5},{"x":-88.6,"r":30.77,"b":28.42,"s":5},{"x":-87.1,"r":30.68,"b":27.98,"s":5},{"x":-85.6,"r":30.59,"b":28.24,"s":5},{"x":-84.1,"r":30.72,"b":28.11,"s":5},{"x":-82.6,"r":30.55,"b":27.89,"s":5},{"x":-81.0,"r":30.33,"b":27.62,"s":5},{"x":-79.5,"r":30.19,"b":27.53,"s":5},{"x":-78.0,"r":30.01,"b":27.31,"s":5},{"x":-76.5,"r":29.88,"b":27.18,"s":5},{"x":-75.0,"r":29.84,"b":26.82,"s":5},{"x":-73.5,"r":29.57,"b":26.65,"s":5},{"x":-72.0,"r":29.84,"b":27.00,"s":5},{"x":-70.4,"r":29.35,"b":26.16,"s":5},{"x":-68.9,"r":29.75,"b":26.65,"s":5},{"x":-67.4,"r":29.84,"b":26.82,"s":5},{"x":-65.9,"r":29.93,"b":26.96,"s":5},{"x":-64.4,"r":29.70,"b":26.60,"s":5},{"x":-62.9,"r":29.88,"b":26.91,"s":5},{"x":-61.4,"r":29.75,"b":26.73,"s":5},{"x":-59.8,"r":29.53,"b":26.38,"s":5},{"x":-58.3,"r":29.79,"b":26.73,"s":5},{"x":-56.8,"r":29.39,"b":26.20,"s":5},{"x":-55.3,"r":29.66,"b":26.60,"s":5},{"x":-53.8,"r":29.57,"b":26.47,"s":5},{"x":-52.3,"r":29.61,"b":26.51,"s":5},{"x":-50.8,"r":29.57,"b":26.38,"s":5},{"x":-49.3,"r":29.75,"b":26.73,"s":5},{"x":-47.7,"r":29.53,"b":26.47,"s":5},{"x":-46.2,"r":29.44,"b":26.29,"s":5},{"x":-44.7,"r":29.57,"b":26.56,"s":5},{"x":-43.2,"r":29.53,"b":26.42,"s":5},{"x":-41.7,"r":29.48,"b":26.38,"s":5},{"x":-40.2,"r":29.53,"b":26.47,"s":5},{"x":-38.7,"r":29.44,"b":26.29,"s":5},{"x":-37.1,"r":29.66,"b":26.73,"s":5},{"x":-35.6,"r":29.53,"b":26.42,"s":5},{"x":-34.1,"r":29.57,"b":26.56,"s":5},{"x":-32.6,"r":29.70,"b":26.69,"s":5},{"x":-31.1,"r":29.88,"b":27.00,"s":5},{"x":-29.6,"r":29.53,"b":26.47,"s":5},{"x":-28.1,"r":29.75,"b":26.73,"s":5},{"x":-26.5,"r":29.39,"b":26.29,"s":5},{"x":-25.0,"r":29.48,"b":26.38,"s":5},{"x":-23.5,"r":29.31,"b":26.11,"s":5},{"x":-22.0,"r":29.61,"b":26.56,"s":5},{"x":-20.5,"r":29.39,"b":26.16,"s":5},{"x":-19.0,"r":29.93,"b":27.05,"s":5},{"x":-17.4,"r":30.72,"b":28.24,"s":5},{"x":-15.9,"r":30.81,"b":28.29,"s":5},{"x":-14.4,"r":31.08,"b":28.77,"s":5},{"x":-12.9,"r":31.48,"b":29.26,"s":5},{"x":-11.4,"r":31.21,"b":28.77,"s":5},{"x":-9.9,"r":31.52,"b":29.31,"s":5},{"x":-8.4,"r":31.39,"b":29.00,"s":5},{"x":-6.8,"r":31.12,"b":28.73,"s":5},{"x":-5.3,"r":31.08,"b":28.73,"s":5}
]},
"layer": [
 {"mark": {"type": "line", "color": "#ff0000", "strokeWidth": 1},
  "encoding": {
   "x": {"field": "x", "type": "quantitative", "scale": {"domain": [-1400, 47.3], "nice": false, "zero": false},
         "axis": {"values": [-1400,-1200,-1000,-800,-600,-400,-200,0], "labelExpr": "'' + datum.value", "labelBaseline": "alphabetic", "labelPadding": 27, "labelAlign": "center"}},
   "y": {"field": "r", "type": "quantitative", "scale": {"domain": [24.73, 32.28], "nice": false, "zero": false},
         "axis": {"values": [25,26,27,28,29,30,31,32], "labelExpr": "'' + datum.value", "labelAngle": -90, "labelAlign": "center", "labelBaseline": "alphabetic", "labelPadding": 11}},
   "detail": {"field": "s"}
  }},
 {"mark": {"type": "line", "color": "black", "strokeWidth": 1},
  "encoding": {
   "x": {"field": "x", "type": "quantitative"},
   "y": {"field": "b", "type": "quantitative"},
   "detail": {"field": "s"}
  }},
 {"data": {"values": [{"h": 29.2}]},
  "mark": {"type": "rule", "color": "black", "strokeWidth": 1, "strokeDash": [4, 3]},
  "encoding": {"y": {"field": "h", "type": "quantitative"}}}
]
}
